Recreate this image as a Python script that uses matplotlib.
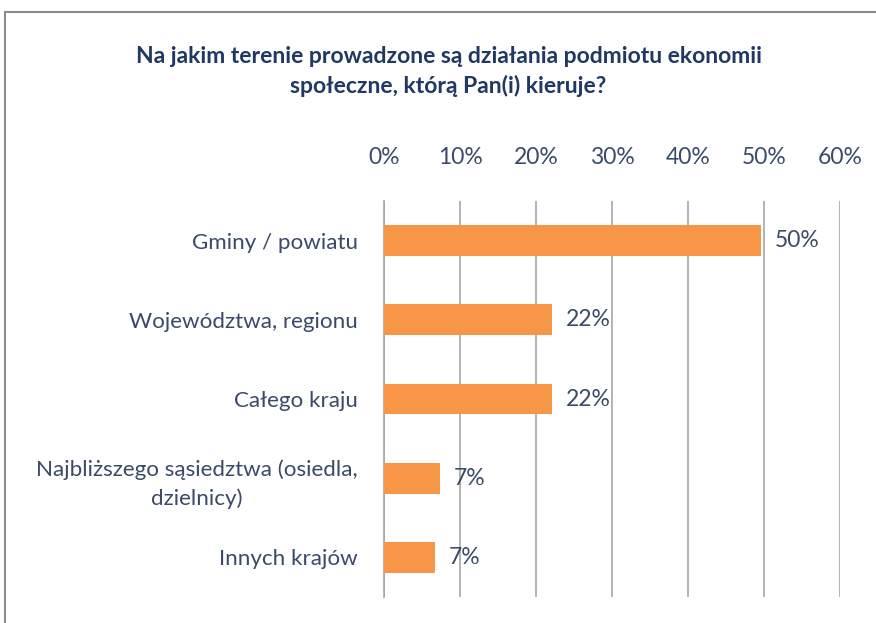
import numpy as np
import matplotlib.pyplot as plt
from matplotlib.lines import Line2D

# data
categories = ['Gminy / powiatu', 'Województwa, regionu', 'Całego kraju',
              'Najbliższego sąsiedztwa (osiedla,\ndzielnicy)', 'Innych krajów']
values = [49.6, 22.1, 22.1, 7.3, 6.7]
value_labels = ['50%', '22%', '22%', '7%', '7%']
ticks = [0, 10, 20, 30, 40, 50, 60]
tick_labels = ['0%', '10%', '20%', '30%', '40%', '50%', '60%']
title = 'Na jakim terenie prowadzone są działania podmiotu ekonomii\nspołeczne, którą Pan(i) kieruje?'

plt.rcParams['font.family'] = ['Lato', 'DejaVu Sans']
text_col = '#3a4a68'
grid_col = '#a6a6a6'
fs = 16.5

fig = plt.figure(figsize=(8.76, 6.23), dpi=100, facecolor='w')
ax = fig.add_axes([0.4384, 0.0417, 0.5205, 0.6356])

y = np.arange(len(categories))
ax.barh(y, values, height=0.39, color='#f79646', zorder=3)
ax.set_ylim(len(categories) - 0.5, -0.5)
ax.set_xlim(0, 60)

ax.set_xticks(ticks)
ax.set_xticklabels(tick_labels, fontsize=fs, color=text_col)
ax.xaxis.tick_top()
ax.tick_params(axis='x', length=0, pad=24)
ax.set_yticks(y)
ax.set_yticklabels(categories, fontsize=16.1, color=text_col,
                   multialignment='center', linespacing=1.5)
ax.tick_params(axis='y', length=0, pad=19)

ax.grid(axis='x', color=grid_col, lw=1.2, zorder=0)
for s in ['top', 'right', 'bottom']:
    ax.spines[s].set_visible(False)
ax.spines['left'].set_color(grid_col)
ax.spines['left'].set_linewidth(1.2)

for yi, v, lab in zip(y, values, value_labels):
    ax.annotate(lab, (v, yi), xytext=(10, 0), textcoords='offset points',
                va='center', ha='left', fontsize=fs, color=text_col)

fig.text(0.512, 0.885, title, ha='center', va='center', fontsize=16.5,
         fontweight='bold', color='#1f3864', linespacing=1.45)

# outer frame (left and top edges)
fig.add_artist(Line2D([0.0057, 0.0057], [0, 0.9807], color='#8c8c8c', lw=1.5, transform=fig.transFigure))
fig.add_artist(Line2D([0.0057, 1.0], [0.9807, 0.9807], color='#8c8c8c', lw=1.5, transform=fig.transFigure))

plt.savefig('out.png', dpi=100, facecolor='w')
